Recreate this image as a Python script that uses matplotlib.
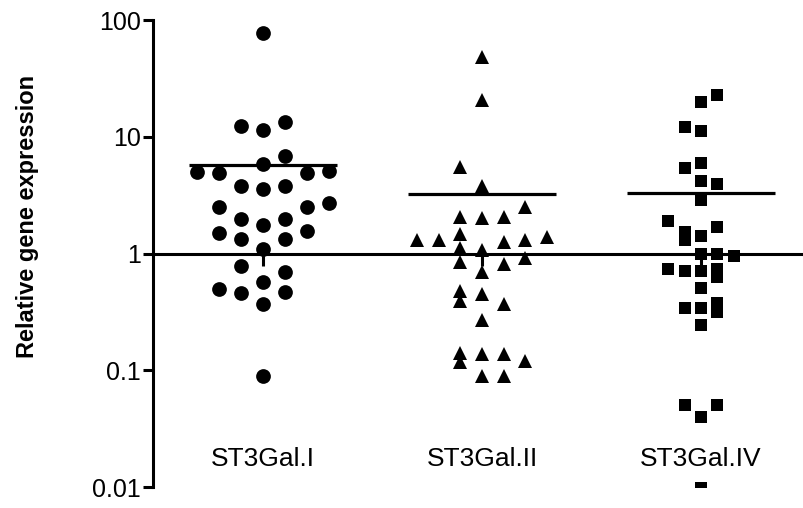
import numpy as np
import matplotlib
matplotlib.use('Agg')
import matplotlib.pyplot as plt

plt.rcParams['font.family'] = ['Liberation Sans', 'DejaVu Sans']

groups = ['ST3Gal.I', 'ST3Gal.II', 'ST3Gal.IV']

# values
st3gal1 = [78, 12.3, 11.5, 13.5, 6.8, 5.79, 4.97, 4.9, 4.9, 5.07, 3.77, 3.58,
           3.77, 2.49, 2.49, 2.70, 1.96, 1.77, 1.96, 1.50, 1.32, 1.32, 1.57,
           1.10, 0.78, 0.70, 0.57, 0.50, 0.457, 0.472, 0.37, 0.090]
st3gal2 = [48.1, 20.5, 5.49, 3.77, 2.49, 2.07, 2.02, 2.05, 1.31, 1.30, 1.47,
           1.25, 1.30, 1.38, 1.12, 1.08, 0.843, 0.816, 0.912, 0.69, 0.482,
           0.395, 0.451, 0.37, 0.267, 0.140, 0.117, 0.138, 0.138, 0.119,
           0.089, 0.089]
st3gal4 = [22.6, 19.8, 12.1, 11.3, 5.38, 5.99, 4.14, 3.96, 2.88, 1.89, 1.54,
           1.31, 1.40, 1.70, 1.0, 1.0, 0.96, 0.74, 0.715, 0.705, 0.74, 0.63,
           0.505, 0.343, 0.343, 0.375, 0.318, 0.242, 0.0505, 0.0505, 0.0401,
           0.0099]

# swarm column of each point (left/right of the group centre)
st3gal1_col = [0, -1, 0, 1, 1, 0, -3, -2, 2, 3, -1, 0, 1, -2, 2, 3, -1, 0, 1,
               -2, -1, 1, 2, 0, -1, 1, 0, -2, -1, 1, 0, 0]
st3gal2_col = [0, 0, -1, 0, 2, -1, 0, 1, -3, -2, -1, 1, 2, 3, -1, 0, -1, 1, 2,
               0, -1, -1, 0, 1, 0, -1, -1, 0, 1, 2, 0, 1]
st3gal4_col = [1, 0, -1, 0, -1, 0, 0, 1, 0, -2, -1, -1, 0, 1, 0, 1, 2, -2, -1,
               0, 1, 1, 0, -1, 0, 1, 1, 0, -1, 1, 0, 0]

values = [st3gal1, st3gal2, st3gal4]
cols = [st3gal1_col, st3gal2_col, st3gal4_col]
markers = ['o', '^', 's']
sizes = [10.6, 10.5, 8]
spacing = [0.1, 0.099, 0.0745]

fig = plt.figure(figsize=(8.04, 5.08), dpi=100)
ax = fig.add_axes([0.1903, 0.0413, 0.8097, 0.9193])

for i in range(3):
    x = i + np.array(cols[i]) * spacing[i]
    ax.plot(x, values[i], linestyle='none', marker=markers[i], ms=sizes[i],
            color='black', markeredgewidth=0, zorder=3)
    m = np.mean(values[i])
    ax.hlines(m, i - 0.338, i + 0.338, color='black', lw=2.3, zorder=4)
    ax.text(i, 0.0175, groups[i], ha='center', va='center', fontsize=19)

ax.set_yscale('log')
ax.set_ylim(0.01, 100)
ax.set_xlim(-0.502, 2.47)
ax.set_yticks([0.01, 0.1, 1, 10, 100])
ax.set_yticklabels(['0.01', '0.1', '1', '10', '100'])
ax.yaxis.set_minor_locator(matplotlib.ticker.NullLocator())
ax.set_xticks([0, 1, 2])
ax.set_xticklabels([])

ax.spines['top'].set_visible(False)
ax.spines['right'].set_visible(False)
ax.spines['bottom'].set_position(('data', 1))
ax.spines['left'].set_linewidth(2.2)
ax.spines['bottom'].set_linewidth(2.2)
ax.tick_params(axis='y', direction='out', length=7, width=2.2, labelsize=18, pad=2)
ax.tick_params(axis='x', direction='out', length=8.5, width=2.2)

fig.text(28 / 804, 1 - 216 / 508, 'Relative gene expression', rotation=90,
         ha='center', va='center', fontsize=17, fontweight='bold')

fig.savefig('out.png', dpi=100)
